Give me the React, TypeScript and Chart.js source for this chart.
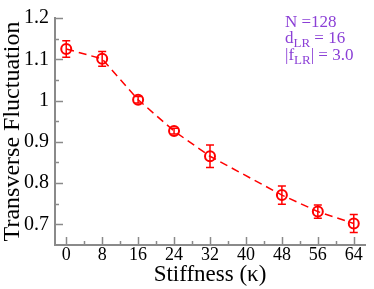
import React, { useEffect, useRef } from "react";
import { Chart, registerables } from "chart.js";

Chart.register(...registerables);

const stiffness = [0, 8, 16, 24, 32, 48, 56, 64];
const fluctuation = [1.125, 1.101, 1.002, 0.926, 0.865, 0.771, 0.731, 0.702];
const fluctErr = [0.02, 0.018, 0.008, 0.007, 0.027, 0.022, 0.016, 0.022];

const xMajorTicks = [0, 8, 16, 24, 32, 40, 48, 56, 64];
const xMinorTicks = [4, 12, 20, 28, 36, 44, 52, 60];
const yMajorTicks = [0.7, 0.8, 0.9, 1.0, 1.1, 1.2];
const yMinorTicks = [0.75, 0.85, 0.95, 1.05, 1.15];

const annotationLines = [
  { main: "N =128", sub: "", rest: "" },
  { main: "d", sub: "LR", rest: " = 16" },
  { main: "|f", sub: "LR", rest: "| = 3.0" },
];

const RED = "#ff0000";
const AXIS = "#8a8a8a";
const PURPLE = "#8b3fd6";
const SERIF = "'Liberation Serif', 'Times New Roman', serif";

const errorBarPlugin = {
  id: "errorBars",
  afterDatasetsDraw(chart: any) {
    const { ctx, scales } = chart;
    const xs = scales.x;
    const ys = scales.y;
    ctx.save();
    ctx.strokeStyle = RED;
    ctx.lineWidth = 1.5;
    ctx.setLineDash([]);
    stiffness.forEach((xv, i) => {
      const px = xs.getPixelForValue(xv);
      const top = ys.getPixelForValue(fluctuation[i] + fluctErr[i]);
      const bot = ys.getPixelForValue(fluctuation[i] - fluctErr[i]);
      ctx.beginPath();
      ctx.moveTo(px, top);
      ctx.lineTo(px, bot);
      ctx.moveTo(px - 4, top);
      ctx.lineTo(px + 4, top);
      ctx.moveTo(px - 4, bot);
      ctx.lineTo(px + 4, bot);
      ctx.stroke();
    });
    ctx.restore();
  },
};

const innerTicksPlugin = {
  id: "innerTicks",
  afterDraw(chart: any) {
    const { ctx, scales, chartArea } = chart;
    const xs = scales.x;
    const ys = scales.y;
    ctx.save();
    ctx.strokeStyle = AXIS;
    ctx.lineWidth = 1.5;
    const b = chartArea.bottom;
    const l = chartArea.left;
    ctx.beginPath();
    xMajorTicks.forEach((v) => {
      const p = Math.round(xs.getPixelForValue(v)) + 0.5;
      ctx.moveTo(p, b);
      ctx.lineTo(p, b - 8);
    });
    xMinorTicks.forEach((v) => {
      const p = Math.round(xs.getPixelForValue(v)) + 0.5;
      ctx.moveTo(p, b);
      ctx.lineTo(p, b - 4);
    });
    yMajorTicks.forEach((v) => {
      const p = Math.round(ys.getPixelForValue(v)) + 0.5;
      ctx.moveTo(l, p);
      ctx.lineTo(l + 8, p);
    });
    yMinorTicks.forEach((v) => {
      const p = Math.round(ys.getPixelForValue(v)) + 0.5;
      ctx.moveTo(l, p);
      ctx.lineTo(l + 4, p);
    });
    ctx.stroke();
    ctx.restore();
  },
};

const annotationPlugin = {
  id: "annotationText",
  afterDraw(chart: any) {
    const { ctx } = chart;
    ctx.save();
    ctx.fillStyle = PURPLE;
    ctx.textBaseline = "alphabetic";
    const x0 = 285;
    const baselines = [27, 43, 60];
    annotationLines.forEach((ln, i) => {
      let x = x0;
      ctx.font = `17px ${SERIF}`;
      ctx.fillText(ln.main, x, baselines[i]);
      x += ctx.measureText(ln.main).width;
      if (ln.sub) {
        ctx.font = `13px ${SERIF}`;
        ctx.fillText(ln.sub, x, baselines[i] + 4);
        x += ctx.measureText(ln.sub).width;
      }
      if (ln.rest) {
        ctx.font = `17px ${SERIF}`;
        ctx.fillText(ln.rest, x, baselines[i]);
      }
    });
    ctx.restore();
  },
};

export default function App() {
  const canvasRef = useRef<HTMLCanvasElement | null>(null);

  useEffect(() => {
    document.body.style.margin = "0";
    const canvas = canvasRef.current;
    if (!canvas) return;
    const chart = new Chart(canvas, {
      type: "line",
      data: {
        datasets: [
          {
            data: stiffness.map((x, i) => ({ x, y: fluctuation[i] })),
            borderColor: RED,
            borderWidth: 1.5,
            borderDash: [8, 5],
            pointRadius: 5,
            pointBorderWidth: 2,
            pointBorderColor: RED,
            pointBackgroundColor: "rgba(0,0,0,0)",
            pointStyle: "circle",
            fill: false,
            tension: 0,
          },
        ],
      },
      options: {
        responsive: false,
        animation: false,
        events: [],
        layout: { padding: { top: 12, right: 9, left: 0, bottom: 0 } },
        plugins: {
          legend: { display: false },
          tooltip: { enabled: false },
        },
        scales: {
          x: {
            type: "linear",
            min: -2.5,
            max: 66.5,
            grid: { display: false, drawTicks: false },
            border: { display: true, color: AXIS, width: 2 },
            afterBuildTicks: (s: any) => {
              s.ticks = xMajorTicks.map((value) => ({ value }));
            },
            afterFit: (s: any) => {
              s.height = 44;
            },
            ticks: {
              color: "#000",
              padding: -1,
              font: { family: SERIF, size: 18 },
              maxRotation: 0,
              autoSkip: false,
              callback: (v: any) => String(v),
            },
            title: {
              display: true,
              text: "Stiffness (κ)",
              color: "#000",
              font: { family: SERIF, size: 23 },
              padding: { top: 0, bottom: 0 },
            },
          },
          y: {
            type: "linear",
            min: 0.65,
            max: 1.2,
            grid: { display: false, drawTicks: false },
            border: { display: true, color: AXIS, width: 2 },
            afterBuildTicks: (s: any) => {
              s.ticks = yMajorTicks.map((value) => ({ value }));
            },
            afterFit: (s: any) => {
              s.width = 55;
            },
            ticks: {
              color: "#000",
              padding: 6,
              font: { family: SERIF, size: 20 },
              autoSkip: false,
              callback: (v: any) => (Math.abs(v - 1) < 1e-9 ? "1" : Number(v).toFixed(1)),
            },
            title: {
              display: true,
              text: "Transverse Fluctuation",
              color: "#000",
              font: { family: SERIF, size: 24 },
              padding: { top: -2, bottom: 0 },
            },
          },
        },
      },
      plugins: [errorBarPlugin, innerTicksPlugin, annotationPlugin],
    } as any);
    return () => chart.destroy();
  }, []);

  return (
    <div style={{ width: 374, height: 289 }}>
      <canvas ref={canvasRef} width={374} height={289} style={{ display: "block" }} />
    </div>
  );
}
